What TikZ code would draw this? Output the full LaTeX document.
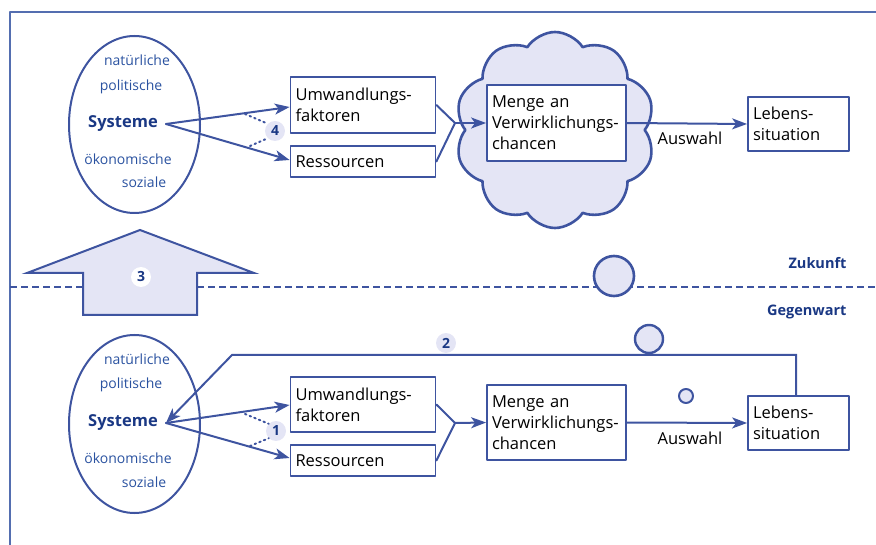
\documentclass[tikz,border=0pt]{standalone}
\usepackage{fontspec}
\setmainfont{Open Sans}
\usetikzlibrary{arrows.meta,shapes.geometric,shapes.symbols,positioning}

\definecolor{linie}{RGB}{62,84,160}
\definecolor{rahmen}{RGB}{84,110,176}
\definecolor{navy}{RGB}{26,56,132}
\definecolor{schrift}{RGB}{42,82,160}
\definecolor{lila}{RGB}{228,229,245}

\tikzset{
  kasten/.style={draw=linie, line width=1.8pt, rectangle, align=left, text=black,
    inner sep=5pt, font=\fontsize{16.5}{21}\selectfont},
  sysname/.style={text=schrift, font=\fontsize{14}{16}\selectfont},
  sysbold/.style={text=navy, font=\bfseries\fontsize{16.5}{18}\selectfont},
  nummer/.style={circle, fill=lila, inner sep=0pt, minimum size=20pt, text=navy,
    font=\bfseries\fontsize{14}{14}\selectfont},
  pfeil/.style={draw=linie, line width=2pt, -{Stealth[length=15pt,width=11pt,inset=4pt]}},
  strich/.style={draw=linie, line width=2pt},
  punkte/.style={draw=linie, line width=2pt, dash pattern=on 1.5pt off 3.5pt},
  blase/.style={draw=linie, fill=lila, line width=2.6pt}
}

\begin{document}
\begin{tikzpicture}[x=1pt, y=-1pt, line cap=round, line join=round]
  \useasboundingbox (0,0) rectangle (876,545);

  % frame
  \draw[rahmen, line width=2pt, line cap=butt] (10,545) -- (10,12) -- (876,12);

  % Zukunft / Gegenwart
  \draw[linie, line width=2.4pt, line cap=butt, dash pattern=on 7pt off 4pt] (10,287) -- (876,287);
  \node[sysbold, anchor=east, font=\bfseries\fontsize{14.5}{16}\selectfont] (zukunft) at (850,263) {Zukunft};
  \node[sysbold, anchor=east, font=\bfseries\fontsize{14.5}{16}\selectfont] (gegenwart) at (850,312) {Gegenwart};

  % big arrow
  \draw[fill=lila, draw=linie, line width=2pt, line join=miter]
    (140,230) -- (254,273) -- (197,273) -- (197,315) -- (83,315) -- (83,273) -- (27,273) -- cycle;
  \node[nummer, fill=white] (n3) at (141,277) {3};

  % bubbles
  \node[blase, circle, minimum size=40pt, inner sep=0pt] (blase1) at (614,276) {};
  \node[blase, circle, minimum size=28pt, inner sep=0pt, line width=2.4pt] (blase2) at (649,339) {};
  \node[blase, circle, minimum size=14pt, inner sep=0pt, line width=2pt] (blase3) at (686,396) {};

  % ---- future ----
  \node[ellipse, draw=linie, line width=2pt, minimum width=131pt, minimum height=177pt] (ell1) at (134.5,124.5) {};
  \node[sysname] (nat1) at (137,60) {natürliche};
  \node[sysname] (pol1) at (131,87) {politische};
  \node[sysbold] (sys1) at (123,124) {Systeme};
  \node[sysname] (oek1) at (128,159) {ökonomische};
  \node[sysname] (soz1) at (144,182) {soziale};

  \node[kasten, minimum width=145pt, minimum height=56pt, text width=135pt] (umw1) at (363,105) {Umwandlungs-\\faktoren};
  \node[kasten, minimum width=145pt, minimum height=31pt, text width=135pt] (res1) at (363,161.5) {Ressourcen};

  \node[cloud, cloud puffs=10, cloud puff arc=115, aspect=1, draw=linie, fill=lila, line width=2.6pt,
    minimum width=200pt, minimum height=196pt] (wolke) at (555,130) {};
  \node[kasten, fill=white, minimum width=139pt, minimum height=76pt, text width=129pt] (menge1) at (556.5,123) {Menge an\\Verwirklichungs-\\chancen};
  \node[kasten, minimum width=101pt, minimum height=54pt, text width=91pt] (leb1) at (798.5,124) {Lebens-\\situation};

  \coordinate (start1) at (166,124);
  \coordinate (knoten1) at (455,123);
  \draw[pfeil] (start1) -- (umw1.west |- 0,107);
  \draw[pfeil] (start1) -- (res1.west |- 0,160);
  \draw[strich] (umw1.east) -- (knoten1) -- (res1.east);
  \draw[pfeil] (knoten1) -- (menge1.west);
  \draw[pfeil] (menge1.east) -- (leb1.west);
  \node[font=\fontsize{16.5}{18}\selectfont] (ausw1) at (690,138) {Auswahl};

  \node[nummer] (n4) at (275,131) {4};
  \draw[punkte] (245,114) -- (n4.north west);
  \draw[punkte] (250,146) -- (n4.south west);

  % ---- present ----
  \node[ellipse, draw=linie, line width=2pt, minimum width=131pt, minimum height=178pt] (ell2) at (134.5,424) {};
  \node[sysname] (nat2) at (137,359) {natürliche};
  \node[sysname] (pol2) at (131,385) {politische};
  \node[sysbold] (sys2) at (123,423) {Systeme};
  \node[sysname] (oek2) at (128,458) {ökonomische};
  \node[sysname] (soz2) at (144,482) {soziale};

  \node[kasten, minimum width=145pt, minimum height=55pt, text width=135pt] (umw2) at (363,404.5) {Umwandlungs-\\faktoren};
  \node[kasten, minimum width=145pt, minimum height=31pt, text width=135pt] (res2) at (363,460.5) {Ressourcen};
  \node[kasten, minimum width=139pt, minimum height=75pt, text width=129pt] (menge2) at (556.5,422.5) {Menge an\\Verwirklichungs-\\chancen};
  \node[kasten, minimum width=101pt, minimum height=54pt, text width=91pt] (leb2) at (798.5,423) {Lebens-\\situation};

  \coordinate (start2) at (166,423);
  \coordinate (knoten2) at (455,423);
  \coordinate (knick) at (232,355);
  \draw[pfeil] (start2) -- (umw2.west |- 0,405);
  \draw[pfeil] (start2) -- (res2.west |- 0,458);
  \draw[strich] (umw2.east) -- (knoten2) -- (res2.east);
  \draw[pfeil] (knoten2) -- (menge2.west);
  \draw[pfeil] (menge2.east) -- (leb2.west);
  \node[font=\fontsize{16.5}{18}\selectfont] (ausw2) at (690,438) {Auswahl};

  % feedback
  \draw[pfeil, line join=miter] (leb2.north -| 796,0) |- (knick) -- (start2);
  \node[nummer] (n2) at (446,343) {2};

  \node[nummer] (n1) at (276,431) {1};
  \draw[punkte] (245,414) -- (n1.north west);
  \draw[punkte] (250,446) -- (n1.south west);
\end{tikzpicture}
\end{document}
